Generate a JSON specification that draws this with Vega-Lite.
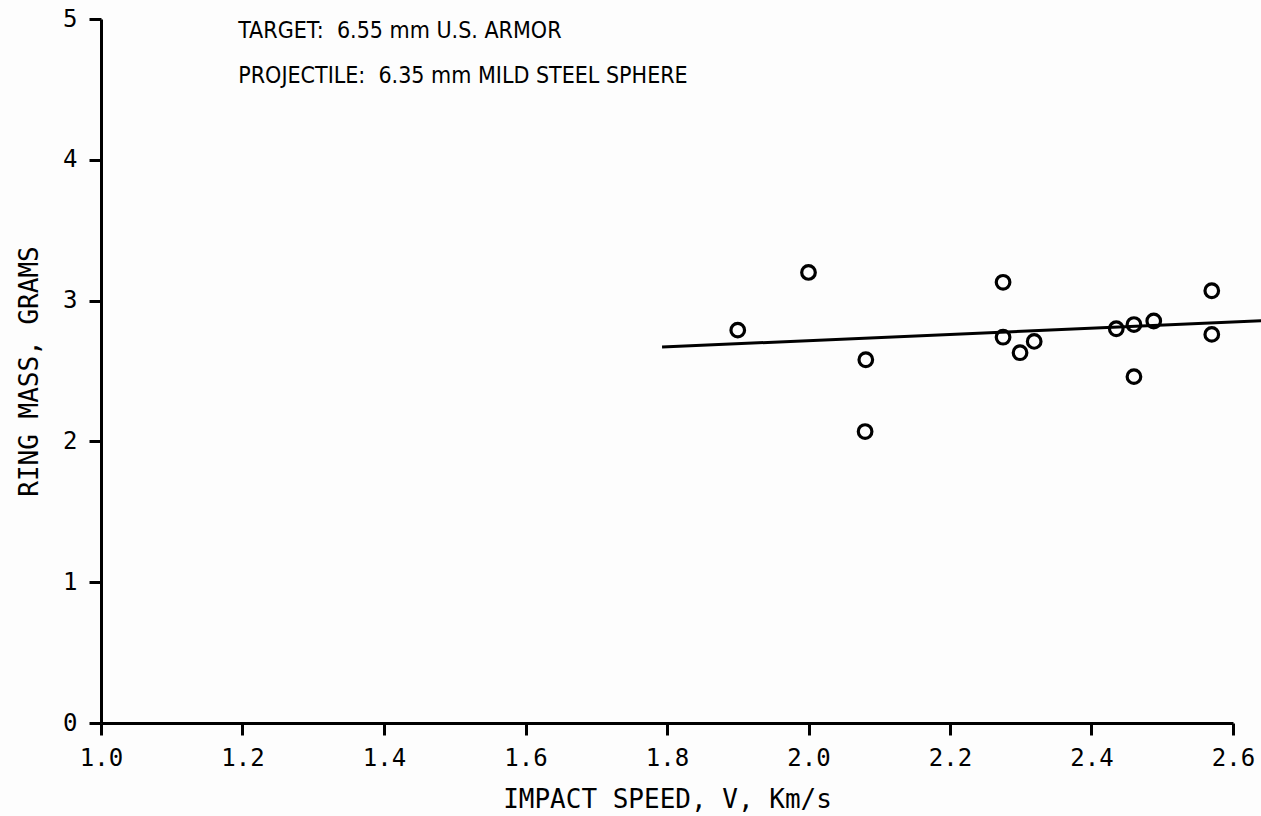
{
  "$schema": "https://vega.github.io/schema/vega-lite/v6.json",
  "width": 1132,
  "height": 704,
  "autosize": {"type": "none"},
  "padding": {"left": 101, "top": 19, "right": 28, "bottom": 93},
  "background": "#fdfdfd",
  "datasets": {
    "points": [
      {"speed": 1.90, "mass": 2.79},
      {"speed": 2.00, "mass": 3.20},
      {"speed": 2.081, "mass": 2.58},
      {"speed": 2.080, "mass": 2.07},
      {"speed": 2.275, "mass": 3.13},
      {"speed": 2.275, "mass": 2.74},
      {"speed": 2.299, "mass": 2.63},
      {"speed": 2.319, "mass": 2.71},
      {"speed": 2.435, "mass": 2.80},
      {"speed": 2.460, "mass": 2.83},
      {"speed": 2.460, "mass": 2.46},
      {"speed": 2.488, "mass": 2.855},
      {"speed": 2.570, "mass": 3.07},
      {"speed": 2.570, "mass": 2.76}
    ],
    "fit": [
      {"speed": 1.793, "mass": 2.67},
      {"speed": 2.64, "mass": 2.857}
    ]
  },
  "config": {
    "view": {"stroke": null},
    "axis": {
      "domainColor": "black",
      "domainWidth": 3,
      "tickColor": "black",
      "tickWidth": 3,
      "tickSize": 12,
      "grid": false,
      "labelFont": "DejaVu Sans Mono",
      "labelFontSize": 24,
      "labelColor": "black",
      "titleFont": "DejaVu Sans Mono",
      "titleFontSize": 26,
      "titleFontWeight": "normal",
      "titleColor": "black"
    }
  },
  "layer": [
    {
      "data": {"name": "fit"},
      "mark": {"type": "line", "color": "black", "strokeWidth": 3, "clip": false},
      "encoding": {
        "x": {"field": "speed", "type": "quantitative",
              "scale": {"domain": [1.0, 2.6], "nice": false, "zero": false},
              "axis": {"values": [1.0, 1.2, 1.4, 1.6, 1.8, 2.0, 2.2, 2.4, 2.6], "format": ".1f",
                       "title": "IMPACT SPEED, V, Km/s", "labelBaseline": "alphabetic", "labelPadding": 30,
                       "titleBaseline": "alphabetic", "titleY": 84, "labelFlush": false, "labelOverlap": false}},
        "y": {"field": "mass", "type": "quantitative",
              "scale": {"domain": [0, 5], "nice": false},
              "axis": {"values": [0, 1, 2, 3, 4, 5], "format": "d", "title": "RING MASS, GRAMS",
                       "labelPadding": 12, "titleBaseline": "alphabetic", "titleX": -64, "titleY": 352,
                       "titleAngle": -90, "titleAlign": "center", "labelFlush": false}}
      }
    },
    {
      "data": {"name": "points"},
      "mark": {"type": "point", "shape": "circle", "filled": false, "stroke": "black", "strokeWidth": 3.2, "size": 185, "opacity": 1},
      "encoding": {
        "x": {"field": "speed", "type": "quantitative"},
        "y": {"field": "mass", "type": "quantitative"}
      }
    },
    {
      "data": {"values": [{}]},
      "mark": {"type": "text", "align": "left", "baseline": "alphabetic", "font": "DejaVu Sans Condensed",
               "fontSize": 23, "lineHeight": 45, "color": "black",
               "text": ["TARGET:\u00a0\u00a06.55 mm U.S. ARMOR", "PROJECTILE:\u00a0\u00a06.35 mm MILD STEEL SPHERE"]},
      "encoding": {
        "x": {"datum": 1.194},
        "y": {"datum": 4.865}
      }
    }
  ]
}
